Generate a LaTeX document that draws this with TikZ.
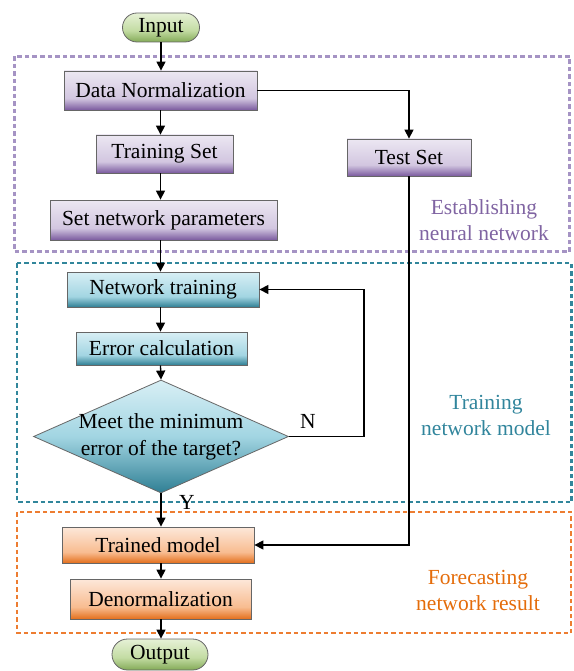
\documentclass[tikz,border=0pt]{standalone}
\usepackage{fontspec}
\setmainfont{Liberation Serif}
\usetikzlibrary{shapes.geometric,shapes.misc,arrows.meta,calc}

% box fills
\definecolor{purL}{HTML}{ECE7F2}\definecolor{purM}{HTML}{D2C6E0}\definecolor{purD}{HTML}{7A5A9E}
\definecolor{tealL}{HTML}{D8EFF5}\definecolor{tealM}{HTML}{A2D5E2}\definecolor{tealD}{HTML}{2F7F94}
\definecolor{orL}{HTML}{FDE8DA}\definecolor{orM}{HTML}{F8BC90}\definecolor{orD}{HTML}{E36F1C}
\definecolor{grL}{HTML}{E6F1D6}\definecolor{grM}{HTML}{C3DCA3}\definecolor{grD}{HTML}{83AA57}
% group frames and captions
\definecolor{purFrame}{HTML}{A593C4}\definecolor{purText}{HTML}{8064A2}
\definecolor{tealFrame}{HTML}{31869B}\definecolor{tealText}{HTML}{31859C}
\definecolor{orFrame}{HTML}{ED7D31}\definecolor{orText}{HTML}{E46C0A}

% vertical shadings: node spans 25bp (bottom) .. 75bp (top)
\pgfdeclareverticalshading{purshade}{100bp}{color(0bp)=(purD); color(25bp)=(purD); color(40bp)=(purM); color(75bp)=(purL); color(100bp)=(purL)}
\pgfdeclareverticalshading{tealshade}{100bp}{color(0bp)=(tealD); color(25bp)=(tealD); color(40bp)=(tealM); color(75bp)=(tealL); color(100bp)=(tealL)}
\pgfdeclareverticalshading{diashade}{100bp}{color(0bp)=(tealD); color(25bp)=(tealD); color(50bp)=(tealM); color(75bp)=(tealL); color(100bp)=(tealL)}
\pgfdeclareverticalshading{orshade}{100bp}{color(0bp)=(orD); color(25bp)=(orD); color(40bp)=(orM); color(75bp)=(orL); color(100bp)=(orL)}
\pgfdeclareverticalshading{grshade}{100bp}{color(0bp)=(grD); color(25bp)=(grD); color(45bp)=(grM); color(75bp)=(grL); color(100bp)=(grL)}

\tikzset{
  txt/.style={font=\fontsize{21.5}{27}\selectfont, align=center, text=black},
  basebox/.style={txt, rectangle, draw=black!60, line width=0.8pt, inner sep=0pt},
  purbox/.style={basebox, shading=purshade},
  tealbox/.style={basebox, shading=tealshade},
  orbox/.style={basebox, shading=orshade},
  terminal/.style={txt, rounded rectangle, draw=black!60, line width=0.8pt, inner sep=0pt, shading=grshade},
  decision/.style={txt, diamond, draw=black!60, line width=0.8pt, inner sep=0pt, shading=diashade},
  arr/.style={line width=1.3pt, -{Triangle[length=9pt,width=9pt]}},
  frame/.style={line width=2.4pt, dash pattern=on 4.5pt off 3pt},
  caption/.style={font=\fontsize{21.5}{26}\selectfont, align=center}
}

\begin{document}
\begin{tikzpicture}[x=1pt,y=-1pt]
\useasboundingbox (0,0) rectangle (573,671);

% group frames
\draw[frame, purFrame] (14.5,56.5) rectangle (569.5,251.5);
\draw[frame, tealFrame] (17,263) rectangle (571.5,502);
\draw[frame, orFrame] (17,512) rectangle (571,633);

% group captions
\node[caption, text=purText] (capA) at (484,220) {Establishing\\neural network};
\node[caption, text=tealText] (capB) at (486,415) {Training\\network model};
\node[caption, text=orText] (capC) at (478,590) {Forecasting\\network result};

% steps
\node[terminal, minimum width=77pt, minimum height=29pt] (input) at (161,27.5) {Input};
\node[purbox, minimum width=193pt, minimum height=39pt] (dn) at (160.5,90.5) {Data Normalization};
\node[purbox, minimum width=137pt, minimum height=38pt] (trs) at (164.5,154) {Training Set};
\node[purbox, minimum width=227pt, minimum height=40pt] (snp) at (163.5,220) {Set network parameters};
\node[purbox, minimum width=124pt, minimum height=37pt] (tst) at (409,157.5) {Test Set};
\node[tealbox, minimum width=192pt, minimum height=35pt] (nt) at (163,289.5) {Network training};
\node[tealbox, minimum width=171pt, minimum height=33pt] (ec) at (161.5,348.5) {Error calculation};
\node[decision, minimum width=255pt, minimum height=113pt] (dia) at (161,436.5) {};
\node[txt] (diatxt) at (161,437) {Meet the minimum\\error of the target?};
\node[orbox, minimum width=192pt, minimum height=36pt] (tm) at (158,545) {Trained model};
\node[orbox, minimum width=181pt, minimum height=40pt] (den) at (160.5,599) {Denormalization};
\node[terminal, minimum width=96pt, minimum height=31pt] (out) at (160,654.5) {Output};

% branch labels
\node[txt] (lblN) at (308,421) {N};
\node[txt] (lblY) at (187,502) {Y};

% connectors
\coordinate (nloop) at (364,436.5);
\draw[arr] (input.south) -- (input.south |- dn.north);
\draw[arr] (dn.south) -- (dn.south |- trs.north);
\draw[arr] (dn.south |- trs.south) -- (dn.south |- snp.north);
\draw[arr] (dn.south |- snp.south) -- (dn.south |- nt.north);
\draw[arr] (dn.south |- nt.south) -- (dn.south |- ec.north);
\draw[arr] (dn.south |- ec.south) -- (dia.north);
\draw[arr] (dia.south) -- (dia.south |- tm.north);
\draw[arr] (dia.south |- tm.south) -- (dia.south |- den.north);
\draw[arr] (dia.south |- den.south) -- (dia.south |- out.north);
\draw[arr] (dn.east) -| (tst.north);
\draw[arr] (dia.east) -- (nloop) |- (nt.east);
\draw[arr] (tst.south) |- (tm.east);
\end{tikzpicture}
\end{document}
